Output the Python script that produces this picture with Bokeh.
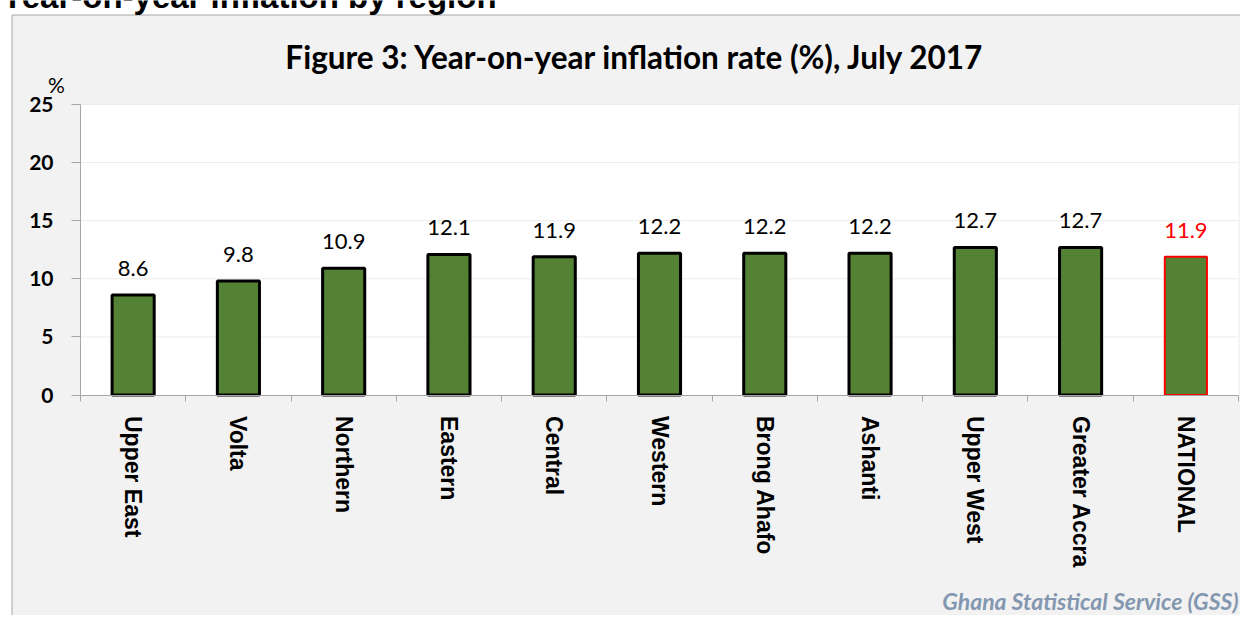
from bokeh.plotting import figure
from bokeh.models import Range1d, FixedTicker, LabelSet, Label, ColumnDataSource
from bokeh.core.properties import value
from bokeh.embed import file_html
from bokeh.resources import INLINE

# ---- data ----
regions = ["Upper East", "Volta", "Northern", "Eastern", "Central", "Western",
           "Brong Ahafo", "Ashanti", "Upper West", "Greater Accra", "NATIONAL"]
inflation = [8.6, 9.8, 10.9, 12.1, 11.9, 12.2, 12.2, 12.2, 12.7, 12.7, 11.9]
y_ticks = [0, 5, 10, 15, 20, 25]
y_max = 25
page_title = "Year-on-year inflation by region"
chart_title = "Figure 3: Year-on-year inflation rate (%),  July 2017"
y_unit = "%"
source_note = "Ghana Statistical Service (GSS)"

# ---- styling / geometry ----
GREEN = "#548235"
AX = "#a6a6a6"
PANEL = "#f2f2f2"
W, H = 1240, 615
n = len(regions)
# plot-area placement on the canvas (pixels from the canvas top-left)
PA_L, PA_R, PA_T, PA_B = 80, 1238, 104, 394.5
ppx = (PA_R - PA_L) / n
ppy = (PA_B - PA_T) / y_max
x_start, x_end = -PA_L / ppx, n + (W - PA_R) / ppx
y_start, y_end = -(H - PA_B) / ppy, y_max + PA_T / ppy


def dx(px):  # canvas px (from left) -> data x
    return x_start + px / ppx


def dy(py):  # canvas px (from top) -> data y
    return y_end - py / ppy


positions = [i + 0.5 for i in range(n)]
outline = ["red" if r == "NATIONAL" else "black" for r in regions]
outline_w = [2 if r == "NATIONAL" else 3 for r in regions]
lab_col = ["#ff0000" if r == "NATIONAL" else "black" for r in regions]
labels = [f"{v:.1f}" for v in inflation]
src = ColumnDataSource(dict(x=positions, top=inflation, lc=outline, lw=outline_w,
                            tc=lab_col, txt=labels))

p = figure(width=W, height=H, output_backend="svg", toolbar_location=None,
           x_range=Range1d(x_start, x_end), y_range=Range1d(y_start, y_end),
           min_border=0)
p.min_border_left = p.min_border_right = p.min_border_top = p.min_border_bottom = 0
p.background_fill_color = "white"
p.border_fill_color = "white"
p.outline_line_color = None
p.xgrid.visible = False
p.ygrid.visible = False

# grey chart panel with its border, then white plot area
p.quad(left=dx(11.5), right=x_end + 1, bottom=y_start - 1, top=dy(14.5),
       fill_color=PANEL, line_color=AX, line_width=1)
p.quad(left=0, right=n, bottom=0, top=y_max, fill_color="white", line_color=None)
# horizontal grid lines inside the plot area
gy = [t for t in y_ticks if t > 0]
p.segment(x0=[0] * len(gy), x1=[n] * len(gy), y0=gy, y1=gy, line_color="#ececec",
          line_width=1)

p.vbar(x="x", top="top", width=0.4, bottom=0, source=src, fill_color=GREEN,
       line_color="lc", line_width="lw")

p.add_layout(LabelSet(x="x", y="top", text="txt", source=src, text_color="tc",
                      y_offset=19, text_align="center", text_baseline="alphabetic",
                      text_font=value("Lato"), text_font_size=value("22px")))

# y axis at x = 0
ya = p.yaxis[0]
ya.fixed_location = 0
ya.bounds = (0, y_max)
ya.ticker = FixedTicker(ticks=y_ticks)
ya.axis_line_color = AX
ya.major_tick_line_color = AX
ya.major_tick_in = 0
ya.major_tick_out = 9
ya.minor_tick_line_color = None
ya.major_label_text_font = "Lato"
ya.major_label_text_font_style = "bold"
ya.major_label_text_font_size = "21px"
ya.major_label_text_color = "black"
ya.major_label_standoff = 18

# x axis at y = 0: names at category centres, tick marks between categories
xa = p.xaxis[0]
xa.fixed_location = 0
xa.bounds = (0, n)
xa.ticker = FixedTicker(ticks=positions, minor_ticks=list(range(n + 1)))
xa.major_label_overrides = {pos: r for pos, r in zip(positions, regions)}
xa.axis_line_color = AX
xa.major_tick_line_color = None
xa.major_tick_in = 0
xa.major_tick_out = 0
xa.minor_tick_line_color = AX
xa.minor_tick_in = 0
xa.minor_tick_out = 6
xa.major_label_orientation = "vertical"
xa.major_label_text_font = "Liberation Sans"
xa.major_label_text_font_style = "bold"
xa.major_label_text_font_size = "23px"
xa.major_label_text_color = "black"
xa.major_label_standoff = 15


def screen_label(text, x_px, mid_px, align, font, size, style="normal", color="black"):
    """Label centred vertically on mid_px (pixels from canvas top)."""
    return Label(x=x_px, y=H - mid_px, x_units="screen", y_units="screen", text=text,
                 text_align=align, text_baseline="middle", text_font=font,
                 text_font_style=style, text_font_size=f"{size}px", text_color=color)


p.add_layout(screen_label(page_title, 1, -4, "left", "Liberation Sans", 33, "bold"))
p.add_layout(screen_label(chart_title, 639, 56, "center", "Lato", 31.5, "bold"))
p.add_layout(screen_label(y_unit, 56, 84, "center", "Lato", 21))
p.add_layout(screen_label(source_note, 1238, 600, "right", "Lato", 23, "bold italic",
                          "#8497b0"))

open("out.html", "w").write(file_html(p, INLINE))
